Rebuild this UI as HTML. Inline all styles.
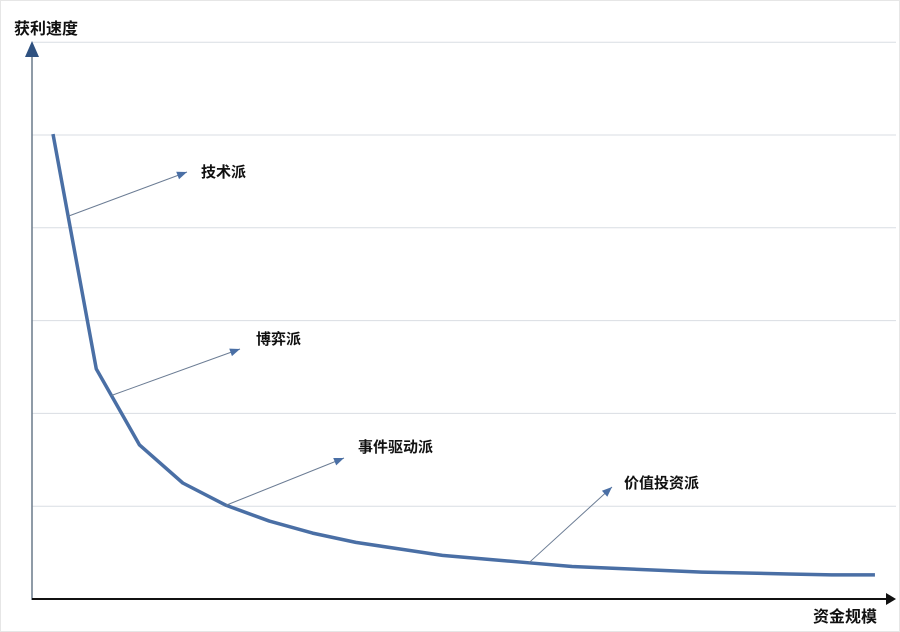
<!DOCTYPE html>
<html><head><meta charset="utf-8"><style>
html,body{margin:0;padding:0;background:#fff;}
svg{display:block;font-family:"Liberation Sans","Noto Sans CJK SC",sans-serif;}
</style></head><body>
<svg id="chart" width="900" height="632" viewBox="0 0 900 632">
<rect x="0.5" y="0.5" width="899" height="631" fill="#fff" stroke="#e6e6e6"/>
<g id="grid"></g>
<g id="series"></g>
<g id="notes"></g>
<line x1="32" y1="600" x2="32" y2="52" stroke="#6a7a8a" stroke-width="1.5"/>
<polygon points="32,41 25,57 39,57" fill="#2f5180"/>
<line x1="32" y1="599" x2="886" y2="599" stroke="#111" stroke-width="2"/>
<polygon points="896,599 886,593 886,605" fill="#111"/>
<text x="14" y="34" font-size="16" font-weight="bold" fill="#111">获利速度</text>
<text x="813" y="622" font-size="16" font-weight="bold" fill="#111">资金规模</text>
</svg>
<script>
const points = [1,2,3,4,5,6,7,8,9,10,11,12,13,14,15,16,17,18,19,20];
const values = [5.01,2.48,1.66,1.25,1.01,0.84,0.71,0.61,0.54,0.47,0.43,0.39,0.35,0.33,0.31,0.29,0.28,0.27,0.26,0.26];
const gridValues = [0,1,2,3,4,5,6];
const labels = ["技术派","博弈派","事件驱动派","价值投资派"];
const labelAnchorIdx = [0.35,1.35,4.0,11.0];
const NS="http://www.w3.org/2000/svg";
const x = i => 53 + (i-1)*43.26;
const y = v => 599 - v*92.8;
function interpY(p){const i=Math.floor(p);const f=p-i;const a=values[i],b=values[Math.min(i+1,values.length-1)];return y(a+(b-a)*f);}
const grid=document.getElementById('grid');
gridValues.forEach(g=>{ if(g===0) return;
 const l=document.createElementNS(NS,'line');
 l.setAttribute('x1',32);l.setAttribute('x2',896);l.setAttribute('y1',y(g));l.setAttribute('y2',y(g));
 l.setAttribute('stroke','#d9dde3');l.setAttribute('stroke-width','1');
 
 
 grid.appendChild(l);});
const s=document.getElementById('series');
const pl=document.createElementNS(NS,'polyline');
pl.setAttribute('points',points.map((p,i)=>x(p)+','+y(values[i])).join(' '));
pl.setAttribute('fill','none');pl.setAttribute('stroke','#4a6fa5');pl.setAttribute('stroke-width','3.5');pl.setAttribute('stroke-linejoin','round');


s.appendChild(pl);
const ends=[[187,172],[240,349],[344,458],[612,487]];
const textPos=[[201,177],[256,344],[358,452],[624,488]];
const n=document.getElementById('notes');
labels.forEach((t,k)=>{
 const p=labelAnchorIdx[k];const sx=x(1+p), sy=interpY(p);
 const [ex,ey]=ends[k];
 const ln=document.createElementNS(NS,'line');
 ln.setAttribute('x1',sx);ln.setAttribute('y1',sy);ln.setAttribute('x2',ex);ln.setAttribute('y2',ey);
 ln.setAttribute('stroke','#6b7c94');ln.setAttribute('stroke-width','1');
 
 
 n.appendChild(ln);
 const ang=Math.atan2(ey-sy,ex-sx);const L=10,W=4;
 const bx=ex-L*Math.cos(ang), by=ey-L*Math.sin(ang);
 const hd=document.createElementNS(NS,'polygon');
 hd.setAttribute('points',`${ex},${ey} ${bx-W*Math.sin(ang)},${by+W*Math.cos(ang)} ${bx+W*Math.sin(ang)},${by-W*Math.cos(ang)}`);
 hd.setAttribute('fill','#4a6fa5');
 
 
 n.appendChild(hd);
 const tx=document.createElementNS(NS,'text');
 tx.setAttribute('x',textPos[k][0]);tx.setAttribute('y',textPos[k][1]);
 tx.setAttribute('font-size','15');tx.setAttribute('font-weight','bold');tx.setAttribute('fill','#111');
 tx.textContent=t;
 
 
 n.appendChild(tx);
});
</script>
</body></html>
